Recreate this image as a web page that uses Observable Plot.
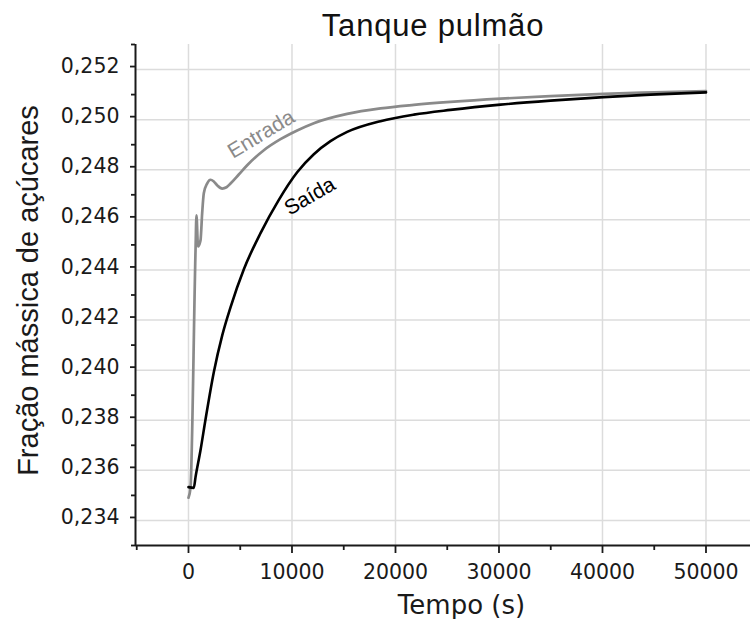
<!DOCTYPE html>
<html><head><meta charset="utf-8">
<script src="https://cdn.jsdelivr.net/npm/d3@7"></script>
<script src="https://cdn.jsdelivr.net/npm/@observablehq/plot@0.6"></script>
<style>
body{margin:0;background:#fff;}
#wrap{width:750px;}
#title{height:40px;box-sizing:border-box;padding-top:10px;padding-left:116px;text-align:center;font-family:"Liberation Sans",Arial,sans-serif;font-size:31px;line-height:31px;color:#111;letter-spacing:0.8px;white-space:nowrap;}
</style></head><body>
<div id="wrap"><div id="title">Tanque pulmão</div><div id="chart"></div></div>
<script>
const titleText = "Tanque pulmão";
const xLabel = "Tempo (s)";
const yLabel = "Fração mássica de açúcares";

const xTicks = [0, 10000, 20000, 30000, 40000, 50000];
const xTickLabels = ["0", "10000", "20000", "30000", "40000", "50000"];
const xMinor = [-5000, 5000, 15000, 25000, 35000, 45000];
const yTicks = [0.234, 0.236, 0.238, 0.240, 0.242, 0.244, 0.246, 0.248, 0.250, 0.252];
const yTickLabels = ["0,234", "0,236", "0,238", "0,240", "0,242", "0,244", "0,246", "0,248", "0,250", "0,252"];
const yMinor = [0.233, 0.235, 0.237, 0.239, 0.241, 0.243, 0.245, 0.247, 0.249, 0.251, 0.253];
const xDomain = [-5120, 54300];
const yDomain = [0.233, 0.253];

const entradaT = [0, 190, 680, 770, 920, 1160, 1320, 1480, 1810, 2130, 2420, 2770, 3260, 3670, 4060, 4860, 5670, 7280, 8890, 10500, 12110, 15330, 18550, 21770, 25310, 30150, 34980, 40100, 45000, 50000];
const entradaV = [0.23491, 0.23528, 0.24478, 0.24618, 0.24494, 0.24518, 0.24626, 0.24706, 0.24746, 0.24760, 0.24754, 0.24738, 0.24725, 0.24730, 0.24745, 0.24781, 0.24818, 0.24878, 0.24922, 0.24957, 0.24986, 0.25023, 0.25045, 0.25059, 0.25071, 0.25084, 0.25094, 0.25103, 0.25109, 0.25114];

const saidaT = [0, 510, 680, 1160, 1640, 2450, 3260, 4060, 5340, 6960, 8700, 10500, 12110, 13720, 15330, 18550, 21770, 25310, 30150, 34980, 40100, 44640, 50000];
const saidaV = [0.23533, 0.23530, 0.23573, 0.23680, 0.23802, 0.23993, 0.24139, 0.24251, 0.24402, 0.24547, 0.24678, 0.24790, 0.24862, 0.24914, 0.24951, 0.24994, 0.25020, 0.25039, 0.25060, 0.25076, 0.25090, 0.25100, 0.25109];

const seriesNames = ["Entrada", "Saída"];
const labelT = [7020, 11720];
const labelV = [0.24942, 0.24694];
const labelAngle = [-31, -30];

document.getElementById("title").textContent = titleText;

const entrada = entradaT.map((t, i) => ({t, v: entradaV[i]}));
const saida = saidaT.map((t, i) => ({t, v: saidaV[i]}));
const labels = seriesNames.map((s, i) => ({text: s, t: labelT[i], v: labelV[i], a: labelAngle[i]}));

const gridStyle = {stroke: "#dcdcdc", strokeOpacity: 1, strokeWidth: 1.5};

const plot = Plot.plot({
  width: 750, height: 579,
  marginTop: 4, marginBottom: 74, marginLeft: 135, marginRight: 0,
  style: {fontFamily: "'DejaVu Sans', sans-serif", fontSize: "20.5px", background: "#fff", color: "#1a1a1a"},
  x: {domain: xDomain},
  y: {domain: yDomain},
  marks: [
    Plot.gridX(xTicks, gridStyle),
    Plot.gridY(yTicks, gridStyle),
    Plot.line(entrada, {x: "t", y: "v", stroke: "#8a8a8a", strokeWidth: 2.7, curve: "monotone-x"}),
    Plot.line(saida, {x: "t", y: "v", stroke: "#000", strokeWidth: 2.6, curve: "monotone-x"}),
    Plot.axisX(xTicks, {tickSize: 8, tickPadding: 11, strokeWidth: 1.8, label: null,
      tickFormat: d => xTickLabels[xTicks.indexOf(d)]}),
    Plot.axisX(xMinor, {tickSize: 5, strokeWidth: 1.8, fill: "none", label: null, tickFormat: () => ""}),
    Plot.axisY(yTicks, {tickSize: 5, tickPadding: 11, strokeWidth: 1.8, label: null, dy: -3,
      tickFormat: d => yTickLabels[yTicks.indexOf(d)]}),
    Plot.axisY(yMinor, {tickSize: 4, strokeWidth: 1.8, fill: "none", label: null, tickFormat: () => ""}),
    Plot.ruleX([xDomain[0]], {stroke: "#1a1a1a", strokeWidth: 2}),
    Plot.ruleY([yDomain[0]], {stroke: "#1a1a1a", strokeWidth: 2}),
    Plot.text([labels[0]], {x: "t", y: "v", text: "text", rotate: labels[0].a, fill: "#8a8a8a",
      fontFamily: "'Liberation Sans', Arial, sans-serif", fontSize: 21}),
    Plot.text([labels[1]], {x: "t", y: "v", text: "text", rotate: labels[1].a, fill: "#000",
      fontFamily: "'Liberation Sans', Arial, sans-serif", fontSize: 21}),
    Plot.text([xLabel], {frameAnchor: "bottom", text: d => d, dx: 18.5, dy: 59.7,
      textAnchor: "middle", lineAnchor: "middle",
      fontFamily: "'DejaVu Sans', sans-serif", fontSize: 26, fill: "#1a1a1a"}),
    Plot.text([yLabel], {frameAnchor: "left", text: d => d, rotate: -90, dx: -107, dy: -4.5,
      textAnchor: "middle", lineAnchor: "middle",
      fontFamily: "'Liberation Sans', Arial, sans-serif", fontSize: 29, fill: "#1a1a1a", letterSpacing: 0.8})
  ]
});
document.getElementById("chart").appendChild(plot);
</script>
</body></html>
